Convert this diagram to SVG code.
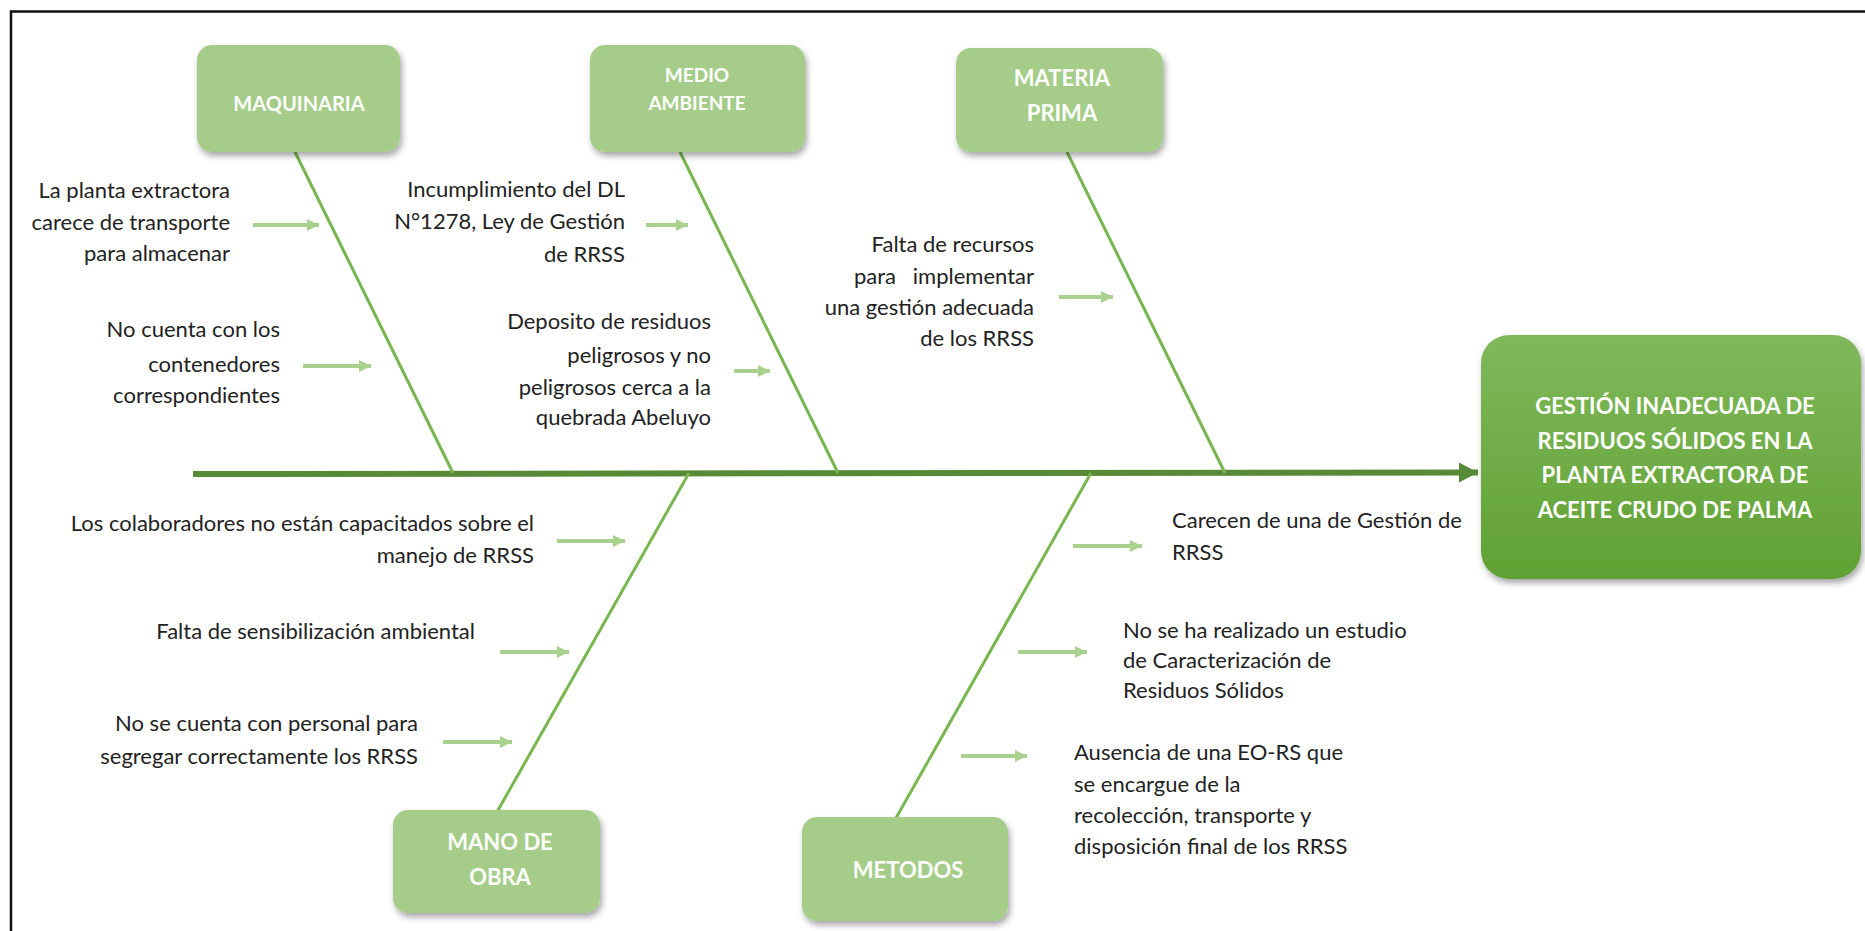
<svg xmlns="http://www.w3.org/2000/svg" width="1865" height="931" viewBox="0 0 1865 931">
<style>
.box{fill:#a5cd89;}
.lbl{font-family:Lato,"Liberation Sans",sans-serif;font-weight:bold;fill:#ffffff;text-anchor:middle;}
.txt{font-family:Lato,"Liberation Sans",sans-serif;font-size:22px;fill:#222222;white-space:pre;}
.r{text-anchor:end;}
.l{text-anchor:start;}
.bone{stroke:#78b64f;stroke-width:3;fill:none;}
.small{stroke:#a9d18e;stroke-width:4;fill:none;marker-end:url(#ah);}
</style>
<defs>
<filter id="sh" x="-20%" y="-20%" width="140%" height="150%">
<feDropShadow dx="2" dy="4" stdDeviation="3" flood-color="#000" flood-opacity="0.35"/>
</filter>
<linearGradient id="g1" x1="0" y1="0" x2="0" y2="1">
<stop offset="0" stop-color="#80b85b"/>
<stop offset="1" stop-color="#60a133"/>
</linearGradient>
<marker id="ah" markerUnits="userSpaceOnUse" markerWidth="14" markerHeight="14" refX="12" refY="6" orient="auto">
<path d="M0,0 L12,6 L0,12 z" fill="#a9d18e"/>
</marker>
<marker id="ahMain" markerUnits="userSpaceOnUse" markerWidth="22" markerHeight="22" refX="19" refY="10" orient="auto">
<path d="M0,0 L19,10 L0,20 z" fill="#578a36"/>
</marker>
</defs>
<rect width="1865" height="931" fill="#ffffff"/>
<path d="M11,931 L11,11.5 L1865,11.5" fill="none" stroke="#111" stroke-width="2.5"/>

<g id="connectors">
<line x1="193" y1="474" x2="1478" y2="472.5" stroke="#578a36" stroke-width="6" marker-end="url(#ahMain)"/>
<line class="bone" x1="295" y1="152" x2="453" y2="473"/>
<line class="bone" x1="680" y1="152" x2="838" y2="473"/>
<line class="bone" x1="1067" y1="152" x2="1225" y2="473"/>
<line class="bone" x1="689" y1="473" x2="497" y2="812"/>
<line class="bone" x1="1091" y1="473" x2="896" y2="818"/>
<line class="small" x1="253" y1="225" x2="319" y2="225"/>
<line class="small" x1="303" y1="366" x2="371" y2="366"/>
<line class="small" x1="646" y1="225" x2="688" y2="225"/>
<line class="small" x1="734" y1="371" x2="770" y2="371"/>
<line class="small" x1="1059" y1="297" x2="1113" y2="297"/>
<line class="small" x1="557" y1="541" x2="625" y2="541"/>
<line class="small" x1="500" y1="652" x2="569" y2="652"/>
<line class="small" x1="443" y1="742" x2="512" y2="742"/>
<line class="small" x1="1073" y1="546" x2="1142" y2="546"/>
<line class="small" x1="1018" y1="652" x2="1087" y2="652"/>
<line class="small" x1="961" y1="756" x2="1027" y2="756"/>
</g>

<g id="maquinaria">
<rect class="box" x="197" y="45" width="203" height="107" rx="15" filter="url(#sh)"/>
<text class="lbl" x="299" y="111" font-size="20">MAQUINARIA</text>
</g>
<g id="medio-ambiente">
<rect class="box" x="590" y="45" width="215" height="107" rx="15" filter="url(#sh)"/>
<text class="lbl" x="697" y="82" font-size="19">MEDIO</text>
<text class="lbl" x="697" y="110" font-size="19">AMBIENTE</text>
</g>
<g id="materia-prima">
<rect class="box" x="956" y="48" width="207" height="104" rx="15" filter="url(#sh)"/>
<text class="lbl" x="1062" y="86" font-size="22">MATERIA</text>
<text class="lbl" x="1062" y="121" font-size="22">PRIMA</text>
</g>
<g id="mano-de-obra">
<rect class="box" x="393" y="810" width="207" height="103" rx="15" filter="url(#sh)"/>
<text class="lbl" x="500" y="850" font-size="22">MANO DE</text>
<text class="lbl" x="500" y="885" font-size="22">OBRA</text>
</g>
<g id="metodos">
<rect class="box" x="802" y="817" width="206" height="104" rx="15" filter="url(#sh)"/>
<text class="lbl" x="908" y="878" font-size="22">METODOS</text>
</g>
<g id="efecto">
<rect x="1481" y="335" width="380" height="244" rx="28" fill="url(#g1)" filter="url(#sh)"/>
<text class="lbl" x="1675" y="414" font-size="22">GESTIÓN INADECUADA DE</text>
<text class="lbl" x="1675" y="448.5" font-size="22">RESIDUOS SÓLIDOS EN LA</text>
<text class="lbl" x="1675" y="483" font-size="22">PLANTA EXTRACTORA DE</text>
<text class="lbl" x="1675" y="517.5" font-size="22">ACEITE CRUDO DE PALMA</text>
</g>

<g id="causa-maq-1">
<text class="txt r" x="230" y="198">La planta extractora</text>
<text class="txt r" x="230" y="230">carece de transporte</text>
<text class="txt r" x="230" y="261">para almacenar</text>
</g>
<g id="causa-maq-2">
<text class="txt r" x="280" y="336.5">No cuenta con los</text>
<text class="txt r" x="280" y="371.5">contenedores</text>
<text class="txt r" x="280" y="402.5">correspondientes</text>
</g>
<g id="causa-med-1">
<text class="txt r" x="625" y="196.5">Incumplimiento del DL</text>
<text class="txt r" x="625" y="228.5">N°1278, Ley de Gestión</text>
<text class="txt r" x="625" y="261.5">de RRSS</text>
</g>
<g id="causa-med-2">
<text class="txt r" x="711" y="328.5">Deposito de residuos</text>
<text class="txt r" x="711" y="362.5">peligrosos y no</text>
<text class="txt r" x="711" y="394.5">peligrosos cerca a la</text>
<text class="txt r" x="711" y="424.5">quebrada Abeluyo</text>
</g>
<g id="causa-mat-1">
<text class="txt r" x="1034" y="251.5">Falta de recursos</text>
<text class="txt r" x="1034" y="284">para   implementar</text>
<text class="txt r" x="1034" y="314.5">una gestión adecuada</text>
<text class="txt r" x="1034" y="346">de los RRSS</text>
</g>
<g id="causa-mano-1">
<text class="txt r" x="534" y="530.5">Los colaboradores no están capacitados sobre el</text>
<text class="txt r" x="534" y="562.5">manejo de RRSS</text>
</g>
<g id="causa-mano-2">
<text class="txt r" x="475" y="638.5">Falta de sensibilización ambiental</text>
</g>
<g id="causa-mano-3">
<text class="txt r" x="418" y="730.5">No se cuenta con personal para</text>
<text class="txt r" x="418" y="763.5">segregar correctamente los RRSS</text>
</g>
<g id="causa-met-1">
<text class="txt l" x="1172" y="527.5">Carecen de una de Gestión de</text>
<text class="txt l" x="1172" y="560">RRSS</text>
</g>
<g id="causa-met-2">
<text class="txt l" x="1123" y="637.5">No se ha realizado un estudio</text>
<text class="txt l" x="1123" y="668">de Caracterización de</text>
<text class="txt l" x="1123" y="698">Residuos Sólidos</text>
</g>
<g id="causa-met-3">
<text class="txt l" x="1074" y="759.5">Ausencia de una EO-RS que</text>
<text class="txt l" x="1074" y="791.5">se encargue de la</text>
<text class="txt l" x="1074" y="822.5">recolección, transporte y</text>
<text class="txt l" x="1074" y="853.5">disposición final de los RRSS</text>
</g>
</svg>
